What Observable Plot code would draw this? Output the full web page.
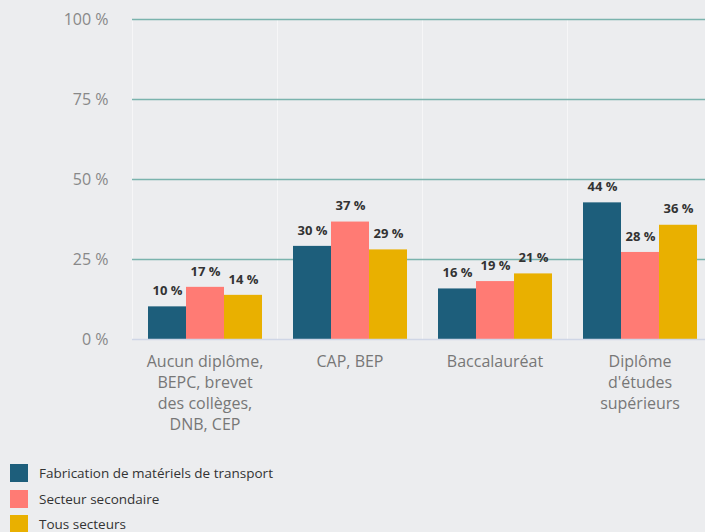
<!DOCTYPE html>
<html>
<head>
<meta charset="utf-8">
<script src="https://cdn.jsdelivr.net/npm/d3@7"></script>
<script src="https://cdn.jsdelivr.net/npm/@observablehq/plot@0.6"></script>
<style>
  html, body { margin: 0; padding: 0; background: #ecedef; overflow: hidden; width: 705px; height: 532px; font-family: "Open Sans", sans-serif; }
  #chart { position: absolute; left: 0; top: 0; }
  #chart svg { max-width: none !important; }
  #legend { position: absolute; left: 10px; top: 464px; font-size: 13.5px; color: #333; }
  .row { display: flex; align-items: center; height: 18px; margin-bottom: 7.5px; }
  .sw { width: 18px; height: 18px; margin-right: 11px; }
</style>
</head>
<body>
<div id="chart"></div>
<div id="legend"></div>
<script>
const categories = ["Aucun diplôme,\nBEPC, brevet\ndes collèges,\nDNB, CEP", "CAP, BEP", "Baccalauréat", "Diplôme\nd'études\nsupérieurs"];
const series = ["Fabrication de matériels de transport", "Secteur secondaire", "Tous secteurs"];
const colors = ["#1d5e7b", "#ff7b74", "#e9b000"];
const fabrication = [10.2, 29.1, 15.8, 42.7];
const secondaire = [16.3, 36.7, 18.1, 27.2];
const tous = [13.8, 28.0, 20.5, 35.7];
const fabricationLabels = ["10 %", "30 %", "16 %", "44 %"];
const secondaireLabels = ["17 %", "37 %", "19 %", "28 %"];
const tousLabels = ["14 %", "29 %", "21 %", "36 %"];
const yTicks = [0, 25, 50, 75, 100];

const rows = [];
[[fabrication, fabricationLabels], [secondaire, secondaireLabels], [tous, tousLabels]].forEach(([vals, labs], si) => {
  categories.forEach((c, ci) => rows.push({category: c, series: series[si], value: vals[ci], label: labs[ci]}));
});

const chart = Plot.plot({
  width: 712,
  height: 445,
  marginLeft: 132,
  marginRight: 0,
  marginTop: 19,
  marginBottom: 106,
  style: {background: "transparent", fontFamily: "Open Sans, sans-serif", maxWidth: "none"},
  fx: {domain: categories, padding: 0, axis: null},
  x: {domain: series, paddingInner: 0, paddingOuter: 0.39, axis: null},
  y: {domain: [0, 100], axis: null},
  color: {domain: series, range: colors},
  marks: [
    Plot.frame({anchor: "left", stroke: "#f6f6f7", strokeWidth: 1}),
    Plot.ruleY([25, 50, 75, 100], {stroke: "#7ab3ad", strokeWidth: 1.5}),
    Plot.barY(rows, {fx: "category", x: "series", y: "value", fill: "series"}),
    Plot.ruleY([0], {stroke: "#cfd6e6", strokeWidth: 1.5}),
    Plot.text(rows, {fx: "category", x: "series", y: "value", text: "label", dy: -16, fontWeight: "bold", fontSize: 13, fill: "#333"}),
    Plot.text(categories, {fx: d => d, text: d => d, frameAnchor: "bottom", lineAnchor: "top", dy: 13, fontSize: 16, lineHeight: 1.3, fill: "#777"}),
    Plot.axisY({ticks: yTicks, tickFormat: d => d + " %", tickSize: 0, tickPadding: 24, fontSize: 16, color: "#888", anchor: "left", label: null})
  ]
});
document.getElementById("chart").appendChild(chart);

const legend = document.getElementById("legend");
series.forEach((s, i) => {
  const row = document.createElement("div");
  row.className = "row";
  row.innerHTML = `<div class="sw" style="background:${colors[i]}"></div><span>${s}</span>`;
  legend.appendChild(row);
});
</script>
</body>
</html>
